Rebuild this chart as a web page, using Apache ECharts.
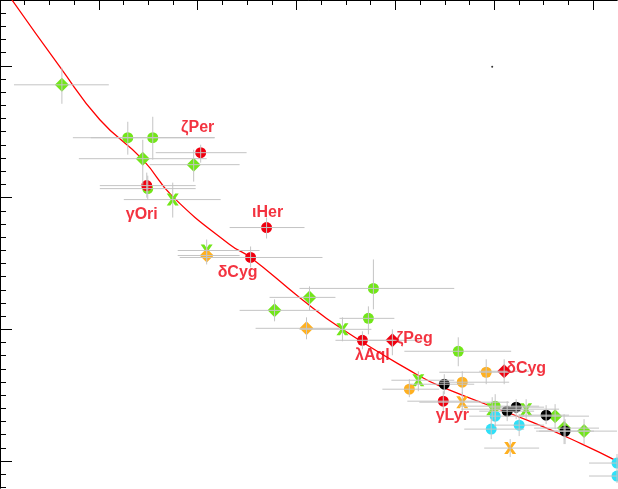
<!DOCTYPE html><html><head><meta charset="utf-8"><script src="https://cdn.jsdelivr.net/npm/echarts@6/dist/echarts.min.js"></script>
<style>html,body{margin:0;background:#fff}#c{width:618px;height:489px}</style></head><body><div id="c"></div><script>
// [x, y, xlo, xhi, ylo, yhi]
const greenDiamond=[[62,85,14,109,68,104],[143,159,79,207,140,185],[194,165,150,240,150,182],[275,311,240,320,300,322],[310,298,270,336,287,311],[556,417,520,590,405,430],[565,429,535,600,415,445],[585,432,540,618,420,445]];
const greenCircle=[[128,138,73,215,122,155],[153,138,91,215,117,160],[148,189,100,196,176,200],[374,289,300,455,260,310],[369,319,340,395,307,335],[459,352,405,512,338,367],[496,407,460,540,395,420]];
const greenX=[[173,200,124,221,183,218],[207,251,178,260,240,262],[343,330,300,372,318,342],[419,381,392,455,372,392],[493,410,462,525,398,422],[527,410,495,560,400,420]];
const redCircle=[[201,153,156,247,145,163],[147,186,100,196,173,198],[267,228,230,305,218,239],[251,258,180,323,247,268],[363,341,336,395,332,350],[444,402,408,480,392,412]];
const redDiamond=[[393,341,370,420,330,356],[505,372,480,530,360,385]];
const orangeCircle=[[487,373,440,512,360,385],[463,383,440,510,372,395],[410,390,383,440,380,398]];
const orangeDiamond=[[207,256,178,240,248,265],[307,329,256,340,318,340]];
const orangeX=[[463,403,420,510,393,413],[511,449,485,540,440,458]];
const black=[[445,385,410,475,375,395],[508,412,480,535,402,422],[517,408,490,545,400,420],[547,416,520,570,406,425],[566,432,537,595,420,445]];
const cyan=[[496,417,470,525,405,428],[492,430,465,525,420,440],[520,426,495,545,415,437],[618,464,590,618,455,470],[618,477,590,618,470,484]];
const fitCurve=[[12,0],[60,67],[100,120],[143,160],[173,197],[230,245],[251,258],[300,298],[343,330],[417,375],[443,388],[533,423],[583,445],[618,462]];
const labels=[[198,128,'ζPer'],[142,215,'γOri'],[268,213,'ιHer'],[238,273,'δCyg'],[373,356,'λAql'],[415,339,'ζPeg'],[527,369,'δCyg'],[453,416,'γLyr']];
const xMajor=[99,198,297,396,495,594];
const yMajor=[66,198,330,462];
const xMinor=[],yMinor=[];
for(let v=24.75;v<618;v+=24.75)xMinor.push(+v.toFixed(2));
for(let v=0.0;v<489;v+=13.2)yMinor.push(+v.toFixed(1));

const X='path://M0,0 L3,0 L5,3 L7,0 L10,0 L6.5,5 L10,10 L7,10 L5,7 L3,10 L0,10 L3.5,5 Z';
const groups=[
 [greenDiamond,'#72e619','diamond',14],[greenCircle,'#72e619','circle',11],[greenX,'#72e619',X,12],
 [orangeCircle,'#ffb020','circle',11],[orangeDiamond,'#ffb020','diamond',14],[orangeX,'#ffb020',X,12],
 [black,'#000','circle',11],[cyan,'#30e0f8','circle',11],
 [redCircle,'#f00010','circle',11],[redDiamond,'#f00010','diamond',14]];
const allPts=groups.flatMap(g=>g[0]);
const ax=(pos,ticks,len,show)=>({type:'value',min:0,max:pos==='left'||pos==='right'?489:618,position:pos,inverse:pos==='left'||pos==='right',
 axisLine:{show:show,lineStyle:{color:'#000',width:1}},splitLine:{show:false},axisLabel:{show:false},
 axisTick:{show:true,inside:true,length:len,customValues:ticks,lineStyle:{color:'#000',width:1}}});
const series=[{type:'line',data:fitCurve,smooth:true,showSymbol:false,lineStyle:{color:'#f00',width:1.3},z:1}];
groups.forEach(([d,c,s,sz])=>series.push({type:'scatter',data:d.map(p=>[p[0],p[1]]),symbol:s,symbolSize:sz,itemStyle:{color:c,opacity:1},emphasis:{disabled:true},z:2}));
series.push({type:'custom',z:3,data:allPts,renderItem:(p,api)=>{
 const x=api.value(0),y=api.value(1);
 const a=api.coord([api.value(2),y]),b=api.coord([api.value(3),y]),c=api.coord([x,api.value(4)]),d=api.coord([x,api.value(5)]);
 const st={stroke:'#c4c4c4',lineWidth:1};
 return {type:'group',children:[{type:'line',shape:{x1:a[0],y1:a[1],x2:b[0],y2:b[1]},style:st},{type:'line',shape:{x1:c[0],y1:c[1],x2:d[0],y2:d[1]},style:st}]};
},encode:{x:0,y:1}});
series.push({type:'scatter',data:[[493,67]],symbolSize:2,itemStyle:{color:'#000'},z:4});
series.push({type:'scatter',data:labels.map(l=>[l[0],l[1]]),symbolSize:0,z:5,
 label:{show:true,position:'inside',formatter:p=>labels[p.dataIndex][2],color:'#f00010',fontSize:16,fontWeight:'bold',fontFamily:'Liberation Sans'}});
echarts.init(document.getElementById('c')).setOption({animation:false,
 grid:{left:0,right:1,top:0,bottom:1,containLabel:false},
 xAxis:[ax('bottom',xMajor,10,true),ax('bottom',xMinor,5,false),ax('top',xMajor,10,true),ax('top',xMinor,5,false)],
 yAxis:[ax('left',yMajor,12,true),ax('left',yMinor,6,false),ax('right',yMajor,12,true),ax('right',yMinor,6,false)],
 series});
</script></body></html>
